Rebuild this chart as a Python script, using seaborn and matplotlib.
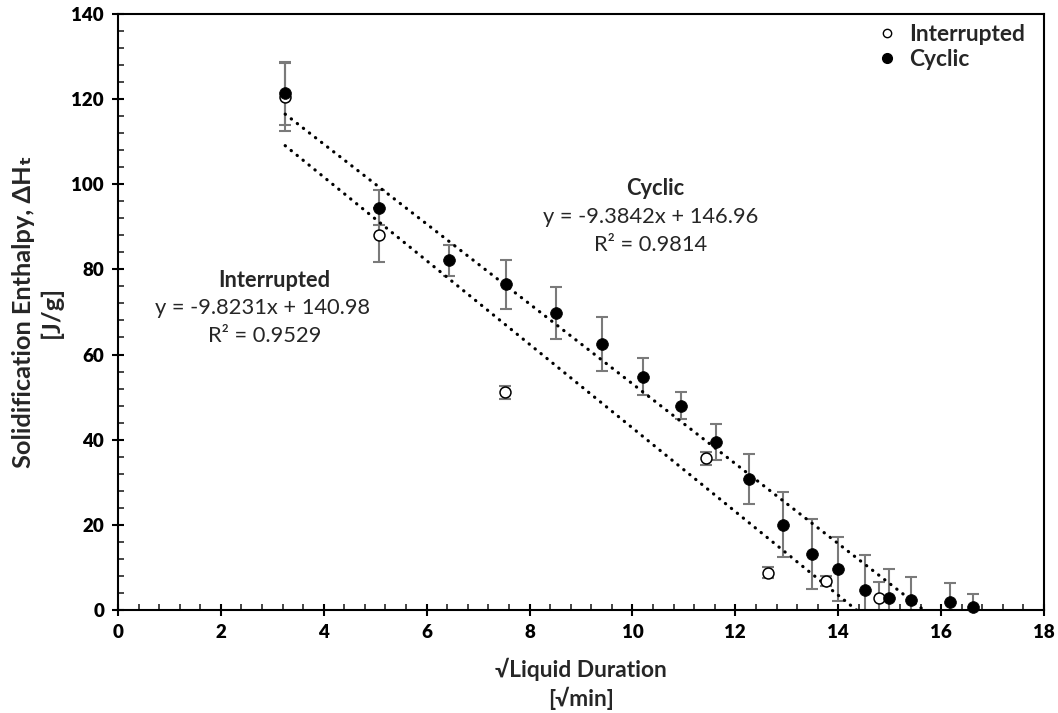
import numpy as np
import pandas as pd
import seaborn as sns
import matplotlib.pyplot as plt
from matplotlib.lines import Line2D
from matplotlib.ticker import MultipleLocator

# data
cyc_x = [3.25, 5.08, 6.43, 7.54, 8.51, 9.40, 10.21, 10.95, 11.63, 12.27,
         12.92, 13.49, 13.99, 14.52, 14.99, 15.42, 16.18, 16.61]
cyc_y = [121.4, 94.5, 82.1, 76.5, 69.7, 62.4, 54.8, 48.0, 39.5, 30.8,
         20.0, 13.2, 9.6, 4.7, 2.7, 2.3, 1.95, 0.8]
cyc_err = [7.4, 4.1, 3.6, 5.8, 6.1, 6.3, 4.3, 3.2, 4.2, 5.9,
           7.6, 8.2, 7.6, 8.3, 6.9, 5.4, 4.5, 2.9]

int_x = [3.25, 5.07, 7.52, 11.43, 12.63, 13.76, 14.79]
int_y = [120.5, 88.1, 51.1, 35.6, 8.8, 6.8, 2.7]
int_err = [8.0, 6.3, 1.5, 1.6, 1.3, 1.1, 3.8]

# trendline coefficients shown on the chart
cyc_fit = (-9.3842, 146.96, 0.9814)
int_fit = (-9.8231, 140.98, 0.9529)

df = pd.concat([
    pd.DataFrame({"x": int_x, "y": int_y, "err": int_err, "series": "Interrupted"}),
    pd.DataFrame({"x": cyc_x, "y": cyc_y, "err": cyc_err, "series": "Cyclic"}),
])

TICK_FS = 13.5

sns.set_theme(style="white")
plt.rcParams["font.family"] = ["Lato", "DejaVu Sans"]
plt.rcParams["xtick.labelsize"] = TICK_FS
plt.rcParams["ytick.labelsize"] = TICK_FS

fig = plt.figure(figsize=(10.58, 7.13), dpi=100)
ax = fig.add_axes([0.1115, 0.1445, 0.8753, 0.836])


def fit_size(t, target, dim="width"):
    # scale font so the text spans about target pixels
    fig.canvas.draw()
    bb = t.get_window_extent(fig.canvas.get_renderer())
    cur = bb.width if dim == "width" else bb.height
    t.set_fontsize(t.get_fontsize() * target / cur)
    return t.get_fontsize()


# error bars
for name, d in df.groupby("series"):
    ax.errorbar(d["x"], d["y"], yerr=d["err"], fmt="none", ecolor="#7a7a7a",
                elinewidth=1.5, capsize=4, capthick=1.5, zorder=2)

# trendlines
for xs, fit in [(cyc_x, cyc_fit), (int_x, int_fit)]:
    xx = np.array([min(xs), max(xs)])
    ax.plot(xx, fit[0] * xx + fit[1], color="black", lw=2.3,
            linestyle=(0, (0.1, 2.3)), dash_capstyle="round", zorder=3)

# points
sns.scatterplot(data=df[df.series == "Interrupted"], x="x", y="y", ax=ax,
                s=62, facecolor="white", edgecolor="black", linewidth=1.1,
                zorder=4, clip_on=False, legend=False)
sns.scatterplot(data=df[df.series == "Cyclic"], x="x", y="y", ax=ax,
                s=72, color="black", edgecolor="black", linewidth=0.5,
                zorder=5, clip_on=False, legend=False)

ax.set_xlim(0, 18)
ax.set_ylim(0, 140)
ax.xaxis.set_major_locator(MultipleLocator(2))
ax.xaxis.set_minor_locator(MultipleLocator(0.4))
ax.yaxis.set_major_locator(MultipleLocator(20))
ax.yaxis.set_minor_locator(MultipleLocator(4))

xl = ax.set_xlabel("\u221aLiquid Duration\n[\u221amin]", fontsize=13, fontweight="bold",
                   linespacing=1.3, labelpad=12)
fit_size(xl, 172)
yl = ax.set_ylabel("Solidification Enthalpy, \u0394H\u209c\n[J/g]", fontsize=13,
                   fontweight="bold", linespacing=1.25, labelpad=6)
fit_size(yl, 312, "height")

# equations
eq = ax.text(2.81, 71.0, "y = %.4fx + %.2f" % int_fit[:2], ha="center", va="center", fontsize=13)
eq_fs = fit_size(eq, 215)
ax.text(3.04, 77.5, "Interrupted", ha="center", va="center", fontsize=eq_fs, fontweight="bold")
ax.text(2.86, 64.4, "R\u00b2 = %.4f" % int_fit[2], ha="center", va="center", fontsize=eq_fs)
ax.text(10.45, 99.1, "Cyclic", ha="center", va="center", fontsize=eq_fs, fontweight="bold")
ax.text(10.36, 92.4, "y = %.4fx + %.2f" % cyc_fit[:2], ha="center", va="center", fontsize=eq_fs)
ax.text(10.36, 85.7, "R\u00b2 = %.4f" % cyc_fit[2], ha="center", va="center", fontsize=eq_fs)

handles = [
    Line2D([], [], marker="o", ls="none", mfc="white", mec="black", ms=6, mew=1),
    Line2D([], [], marker="o", ls="none", mfc="black", mec="black", ms=7),
]
ax.legend(handles, ["Interrupted", "Cyclic"], loc="upper right",
          bbox_to_anchor=(0.991, 1.0), frameon=False,
          prop={"weight": "bold", "size": eq_fs * 1.04}, handletextpad=0.6,
          borderaxespad=0.1, borderpad=0.35, labelspacing=0.15, handlelength=0.8)

# tick styling last, so later draws keep it
ax.tick_params(which="major", direction="inout", length=8, width=1.5,
               labelsize=TICK_FS, colors="black", pad=6)
ax.tick_params(which="minor", direction="in", length=4, width=1.2)
ax.tick_params(axis="x", which="both", bottom=True)
ax.tick_params(axis="y", which="both", left=True)
plt.setp(ax.get_xticklabels() + ax.get_yticklabels(), fontweight="heavy",
         fontsize=TICK_FS)
for sp in ax.spines.values():
    sp.set_color("black")
    sp.set_linewidth(1.5)

fig.savefig("out.png", dpi=100)
